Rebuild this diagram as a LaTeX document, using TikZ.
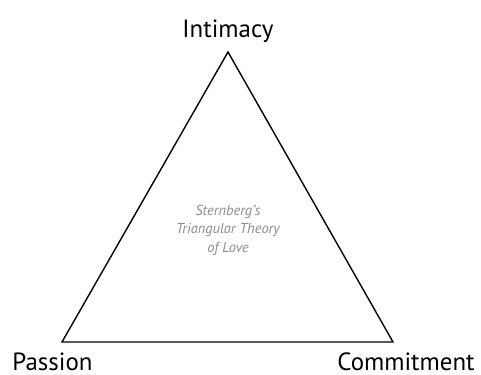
\documentclass[tikz,border=0pt]{standalone}
\usepackage{fontspec}
\setmainfont{PT Sans}
\usepackage{tikz}
\tikzstyle{corner}=[font=\fontsize{25}{29}\selectfont,anchor=base,inner sep=0pt]
\tikzstyle{side}=[draw=black,line width=1.4bp,line join=miter]

\begin{document}
\begin{tikzpicture}[x=1bp,y=1bp]
    \tikzstyle{title}=[font=\fontsize{14.5}{18.5}\selectfont\itshape,text=black!45,align=center,inner sep=0pt]
    \useasboundingbox (0,0) rectangle (481,374);

    \coordinate (top)   at (228,322);
    \coordinate (left)  at (62,32);
    \coordinate (right) at (393,32);

    \node[corner] (intimacy)   at (228,337) {Intimacy};
    \node[corner] (passion)    at (52.5,4)  {Passion};
    \node[corner] (commitment) at (406,4)   {Commitment};
    \node[title]  (theory)     at (228,144) {Sternberg's\\Triangular Theory\\of Love};

    \draw [side] (top)--(left)--(right)--cycle;

\end{tikzpicture}
\end{document}
